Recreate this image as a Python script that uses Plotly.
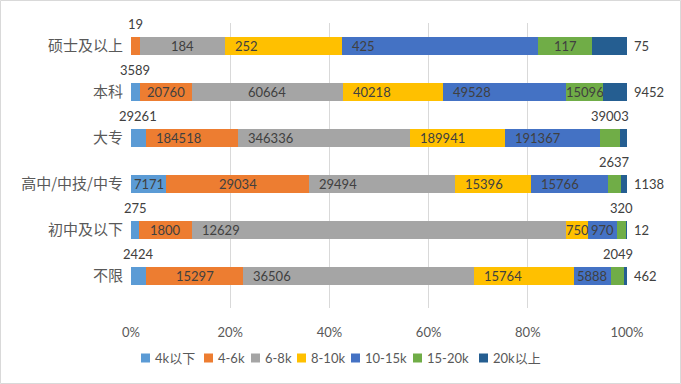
import plotly.graph_objects as go

# ---------------- data ----------------
categories = ['硕士及以上', '本科', '大专', '高中/中技/中专', '初中及以下', '不限']
series_names = ['4k以下', '4-6k', '6-8k', '8-10k', '10-15k', '15-20k', '20k以上']

s_below_4k = [None, 3589, 29261, 7171, 275, 2424]
s_4_6k = [19, 20760, 184518, 29034, 1800, 15297]
s_6_8k = [184, 60664, 346336, 29494, 12629, 36506]
s_8_10k = [252, 40218, 189941, 15396, 750, 15764]
s_10_15k = [425, 49528, 191367, 15766, 970, 5888]
s_15_20k = [117, 15096, 39003, 2637, 320, 2049]
s_above_20k = [75, 9452, 14865, 1138, 12, 462]

x_tick_vals = [0, 20, 40, 60, 80, 100]
x_tick_text = ['0%', '20%', '40%', '60%', '80%', '100%']

# ---------------- styles ----------------
series = [s_below_4k, s_4_6k, s_6_8k, s_8_10k, s_10_15k, s_15_20k, s_above_20k]
colors = ['#5B9BD5', '#ED7D31', '#A5A5A5', '#FFC000', '#4472C4', '#70AD47', '#255E91']
# label placement: c=centre inside, s=start inside, a=above, r=right of bar
label_modes = [
    ['', 'a', 'a', 'c', 'a', 'a'],
    ['a', 'c', 's', 'c', 'c', 'c'],
    ['c', 'c', 's', 's', 's', 's'],
    ['s', 's', 's', 's', 'c', 's'],
    ['s', 's', 's', 's', 'c', 'c'],
    ['c', 'c', 'a', 'a', 'a', 'a'],
    ['r', 'r', 'r', 'r', 'r', 'r'],
]
legend_px = [141, 204, 251, 297, 351, 413, 479]  # left edge of each legend swatch
legend_y_px = 358

W, H = 681, 384
ML, MR, MT, MB = 131, 54, 23, 76
PW, PH = W - ML - MR, H - MT - MB

FONT = "Lato, 'Noto Sans CJK SC', sans-serif"
TXT = '#404040'
AX = '#595959'


def px_x(px):
    return (px - ML) / PW


def px_y(py):
    return (H - MB - py) / PH


totals = [sum(s[i] or 0 for s in series) for i in range(len(categories))]
pcts = [[v / totals[i] * 100 if v is not None else None for i, v in enumerate(s)] for s in series]

fig = go.Figure()
for name, pc, col in zip(series_names, pcts, colors):
    fig.add_trace(go.Bar(
        name=name, y=categories, x=pc, orientation='h',
        marker=dict(color=col, line=dict(width=0)),
        hoverinfo='skip',
    ))

annotations = []
cum = [0.0] * len(categories)
for si, s in enumerate(series):
    for ci, v in enumerate(s):
        if v is None:
            continue
        p = pcts[si][ci]
        start = cum[ci]
        mode = label_modes[si][ci]
        a = dict(y=categories[ci], text=str(v), showarrow=False,
                 font=dict(size=13, color=TXT, family=FONT), xref='x', yref='y')
        if mode == 'c':
            a.update(x=start + p / 2, xanchor='center')
        elif mode == 's':
            a.update(x=start, xanchor='left', xshift=8)
        elif mode == 'a':
            a.update(x=start + p / 2, xanchor='center', yshift=22)
        elif mode == 'r':
            a.update(x=start + p, xanchor='left', xshift=5)
        annotations.append(a)
        cum[ci] += p

shapes = [dict(type='rect', xref='paper', yref='paper',
               x0=px_x(0.5), x1=px_x(W - 0.5), y0=px_y(H - 0.5), y1=px_y(0.5),
               line=dict(color='#D9D9D9', width=1), layer='below')]

# custom legend (Excel style compact)
for name, col, lx in zip(series_names, colors, legend_px):
    shapes.append(dict(type='rect', xref='paper', yref='paper',
                       x0=px_x(lx), x1=px_x(lx + 9),
                       y0=px_y(legend_y_px + 4.5), y1=px_y(legend_y_px - 4.5),
                       fillcolor=col, line=dict(width=0)))
    annotations.append(dict(xref='paper', yref='paper', x=px_x(lx + 12), y=px_y(legend_y_px),
                            xanchor='left', yanchor='middle', text=name, showarrow=False,
                            font=dict(size=13, color=AX, family=FONT)))

fig.update_layout(
    width=W, height=H,
    margin=dict(l=ML, r=MR, t=MT, b=MB, autoexpand=False),
    barmode='stack', bargap=0.6,
    paper_bgcolor='white', plot_bgcolor='white',
    font=dict(family=FONT, color=AX),
    showlegend=False,
    annotations=annotations,
    shapes=shapes,
)
fig.update_xaxes(range=[0, 100], tickvals=x_tick_vals, ticktext=x_tick_text,
                 showgrid=True, gridcolor='#D9D9D9', gridwidth=1, zeroline=False, showline=False,
                 tickfont=dict(size=13, color=AX), ticklabelstandoff=15, fixedrange=True, automargin=False)
fig.update_yaxes(autorange='reversed', showgrid=False, zeroline=False, showline=False,
                 tickfont=dict(size=15, color=AX, family="'Noto Sans CJK SC', sans-serif"),
                 ticklabelstandoff=7, fixedrange=True, automargin=False)

fig.write_html('out.html', config={'displayModeBar': False},
               post_script="document.body.style.margin='0';")
